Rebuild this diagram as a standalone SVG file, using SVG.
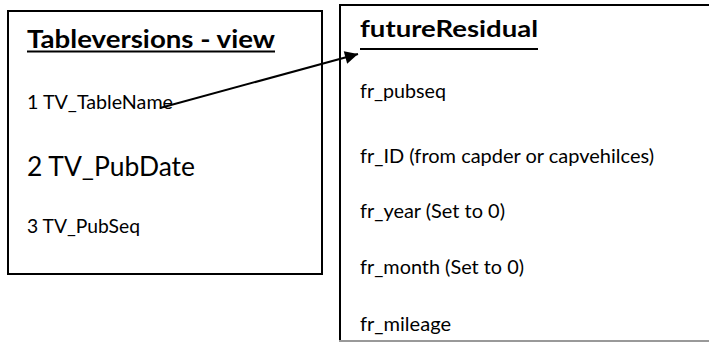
<svg xmlns="http://www.w3.org/2000/svg" width="709" height="342" viewBox="0 0 709 342">
<style>
  .box{fill:none;stroke:#000;stroke-width:2}
  .t{font-family:Lato,"Open Sans","Liberation Sans",sans-serif;fill:#000}
  .h{font-weight:bold;font-size:24px}
  .h2{font-weight:bold;font-size:22px}
  .s{font-size:20px}
  .b{font-size:27px}
  .ul{stroke:#000;stroke-width:2}
  .conn{stroke:#000;stroke-width:2;fill:none}
</style>
<defs>
  <marker id="arr" viewBox="0 0 10 10" refX="10" refY="5" markerWidth="8" markerHeight="6.5" markerUnits="strokeWidth" orient="auto">
    <path d="M0,0 L10,5 L0,10 Z" fill="#000"/>
  </marker>
  <clipPath id="clip2"><rect x="339" y="0" width="370" height="337"/></clipPath>
</defs>
<rect width="709" height="342" fill="#fff"/>
<g id="tableversions">
  <rect class="box" x="8" y="11" width="314" height="263"/>
  <text class="t h" x="27" y="48" textLength="248" lengthAdjust="spacingAndGlyphs">Tableversions - view</text>
  <line class="ul" x1="27" y1="51.5" x2="275" y2="51.5"/>
  <text class="t s" x="27" y="109" textLength="146" lengthAdjust="spacingAndGlyphs">1 TV_TableName</text>
  <text class="t b" x="27" y="176" textLength="168" lengthAdjust="spacingAndGlyphs">2 TV_PubDate</text>
  <text class="t s" x="27" y="233" textLength="113" lengthAdjust="spacingAndGlyphs">3 TV_PubSeq</text>
</g>
<g id="futureResidual">
  <path class="box" d="M709,5 H340 V341"/>
  <line x1="339" y1="341" x2="709" y2="341" stroke="#999" stroke-width="2"/>
  <text class="t h2" x="360" y="37" textLength="178" lengthAdjust="spacingAndGlyphs">futureResidual</text>
  <line class="ul" x1="360" y1="49" x2="538" y2="49"/>
  <g clip-path="url(#clip2)">
    <text class="t s" x="360" y="98" textLength="86" lengthAdjust="spacingAndGlyphs">fr_pubseq</text>
    <text class="t s" x="360" y="163" textLength="294" lengthAdjust="spacingAndGlyphs">fr_ID (from capder or capvehilces)</text>
    <text class="t s" x="360" y="218" textLength="145" lengthAdjust="spacingAndGlyphs">fr_year (Set to 0)</text>
    <text class="t s" x="360" y="274" textLength="164" lengthAdjust="spacingAndGlyphs">fr_month (Set to 0)</text>
    <text class="t s" x="360" y="331" textLength="91" lengthAdjust="spacingAndGlyphs">fr_mileage</text>
  </g>
</g>
<g id="connectors">
  <line class="conn" x1="160" y1="108" x2="358" y2="54" marker-end="url(#arr)"/>
</g>
</svg>
